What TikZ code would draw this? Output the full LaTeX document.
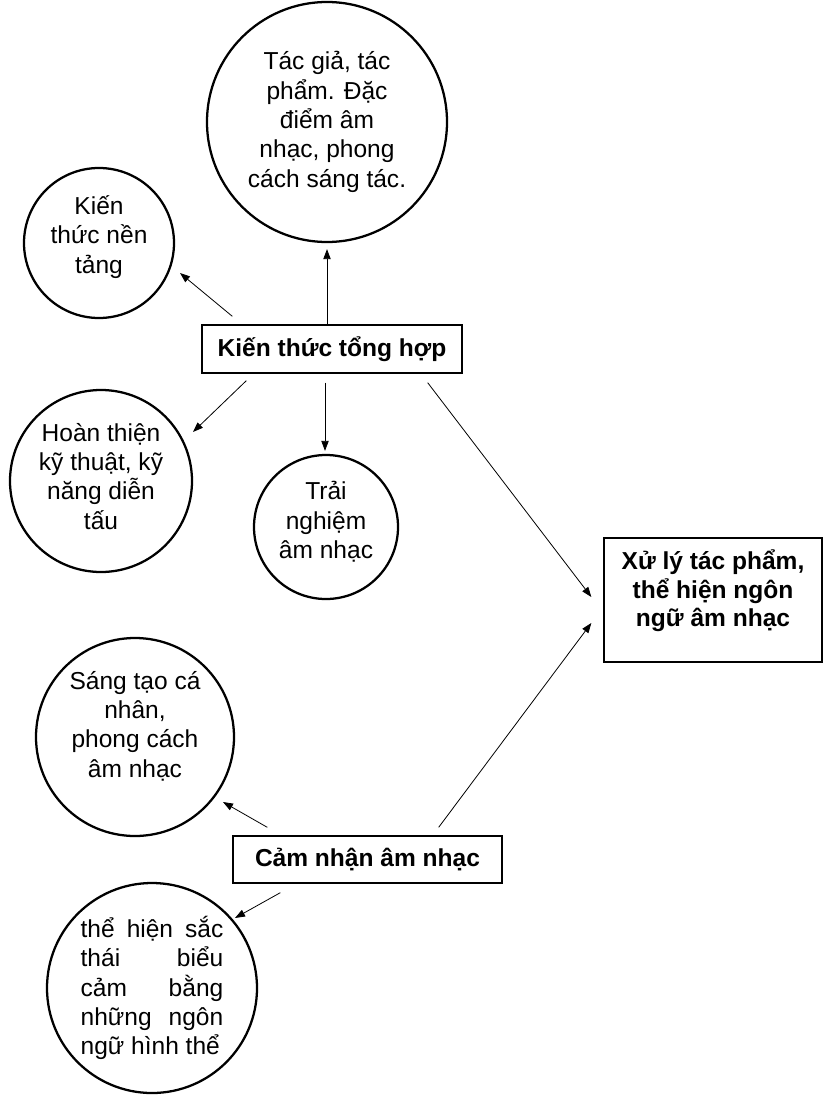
\documentclass[tikz,border=0pt]{standalone}
\usepackage{fontspec}
\setmainfont{Liberation Sans}
\usetikzlibrary{arrows.meta,positioning}
\tolerance=9999
\hbadness=10000
\hyphenpenalty=10000

\begin{document}
\begin{tikzpicture}[x=0.75pt,y=-0.75pt,on grid,
		font=\fontsize{18.4}{22}\selectfont,
		circ/.style={draw,circle,line width=1.7pt,inner sep=0pt,align=center,minimum size=#1},
		box/.style={draw,rectangle,line width=1pt,inner sep=0pt,align=center,font=\fontsize{18.4}{21.5}\selectfont\bfseries},
		arr/.style={line width=0.6pt,-{Triangle[length=7.5pt,width=5.5pt]}}]
		\useasboundingbox (0,0) rectangle (823,1095);
		\node (a) [box,minimum width=195pt,minimum height=36pt] at (332,349) {Kiến thức tổng hợp};
		\node (b) [circ=180pt] [above left=170.25pt and 3.75pt of a] {Tác giả, tác\\phẩm. Đặc\\điểm âm\\nhạc, phong\\cách sáng tác.};
		\node (c) [circ=112.5pt,text depth=13pt] [above left=79.5pt and 174.75pt of a] {Kiến\\thức nền\\tảng};
		\node (d) [circ=136.5pt,text depth=7.5pt] [below left=99pt and 173.25pt of a] {Hoàn thiện\\kỹ thuật, kỹ\\năng diễn\\tấu};
		\node (e) [circ=108pt,text depth=10.3pt] [below left=133.5pt and 4.5pt of a] {Trải\\nghiệm\\âm nhạc};
		\node (f) [box,minimum width=163.5pt,minimum height=93pt,text depth=17.8pt] [below right=188.25pt and 285.75pt of a] {Xử lý tác phẩm,\\thể hiện ngôn\\ngữ âm nhạc};
		\node (h) [box,minimum width=201.75pt,minimum height=35.25pt] [below right=382.875pt and 26.625pt of a] {Cảm nhận âm nhạc};
		\node (g) [circ=148.5pt,text depth=19.3pt] [above left=91.875pt and 174.375pt of h] {Sáng tạo cá\\nhân,\\phong cách\\âm nhạc};
		\node (i) [circ=157.5pt,text width=107pt,align=justify] [below left=96.375pt and 161.625pt of h] {thể hiện sắc\linebreak thái biểu\linebreak cảm bằng\linebreak những ngôn\linebreak ngữ hình thể};
		\path[arr] ([shift={(-5,0)}]a.north) edge ([shift={(0,6)}]b.south);
		\path[arr] ([shift={(31,-8)}]a.north west) edge ([shift={(81,30)}]c.center);
		\path[arr] ([shift={(45,7)}]a.south west) edge ([shift={(92,-49)}]d.center);
		\path[arr] ([shift={(-7,9)}]a.south) edge ([shift={(-1,-3)}]e.north);
		\path[arr] ([shift={(-35,9)}]a.south east) edge ([shift={(-12,-3)}]f.west);
		\path[arr] ([shift={(-64,-8)}]h.north east) edge ([shift={(-12,23)}]f.west);
		\path[arr] ([shift={(35,-8)}]h.north west) edge ([shift={(88,65)}]g.center);
		\path[arr] ([shift={(48,9)}]h.south west) edge ([shift={(83,-70)}]i.center);
\end{tikzpicture}
\end{document}
